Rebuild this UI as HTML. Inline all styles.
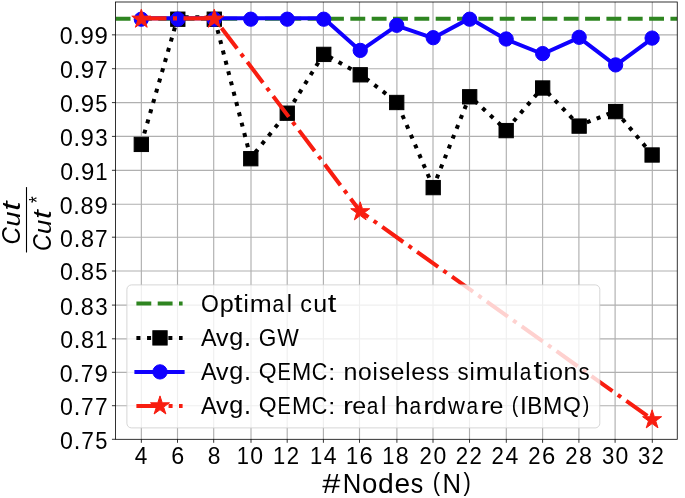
<!DOCTYPE html>
<html><head><meta charset="utf-8"><title>QEMC cut ratio</title>
<style>
html,body{margin:0;padding:0;background:#fff;width:685px;height:498px;overflow:hidden}
svg{display:block;will-change:transform;filter:blur(0.4px)}
text{font-family:"Liberation Sans",sans-serif;fill:#000}
</style></head>
<body>
<svg width="685" height="498" viewBox="0 0 685 498">
<rect width="685" height="498" fill="#fff"/>
<path d="M141.35 2V439.3M177.5 2V439.3M213.7 2V439.3M251 2V439.3M287.2 2V439.3M323.4 2V439.3M359.5 2V439.3M396.9 2V439.3M433 2V439.3M469.5 2V439.3M506.3 2V439.3M542.6 2V439.3M578.9 2V439.3M615.1 2V439.3M652.3 2V439.3M115.45 34.85H677.25M115.45 68.7H677.25M115.45 102.6H677.25M115.45 136.4H677.25M115.45 170.3H677.25M115.45 204.2H677.25M115.45 237.2H677.25M115.45 271H677.25M115.45 305.1H677.25M115.45 338.8H677.25M115.45 372.3H677.25M115.45 405.7H677.25" stroke="#b0b0b0" stroke-width="1.15" fill="none"/>
<defs><clipPath id="ax"><rect x="115.45" y="2" width="561.8" height="437.3"/></clipPath></defs>
<g clip-path="url(#ax)">
<path d="M115.45 18.8H677.25" stroke="#2e8520" stroke-width="4.02" stroke-dasharray="14.9 6.44" stroke-dashoffset="-0.15" fill="none"/>
<path d="M141.31 143.8L177.8 17.36" stroke="#000" stroke-width="4.02" stroke-dasharray="4.02 6.63" stroke-dashoffset="0.00" fill="none"/>
<path d="M177.8 17.36L214.28 17.36" stroke="#000" stroke-width="4.02" stroke-dasharray="4.02 6.63" stroke-dashoffset="131.60" fill="none"/>
<path d="M214.28 17.36L250.77 158.1" stroke="#000" stroke-width="4.02" stroke-dasharray="4.02 6.63" stroke-dashoffset="168.09" fill="none"/>
<path d="M250.77 158.1L287.25 112.6" stroke="#000" stroke-width="4.02" stroke-dasharray="4.02 6.63" stroke-dashoffset="312.38" fill="none"/>
<path d="M287.25 112.6L323.74 53.8" stroke="#000" stroke-width="4.02" stroke-dasharray="4.02 6.63" stroke-dashoffset="371.10" fill="none"/>
<path d="M323.74 53.8L360.23 74.2" stroke="#000" stroke-width="4.02" stroke-dasharray="4.02 6.63" stroke-dashoffset="441.00" fill="none"/>
<path d="M360.23 74.2L396.71 101.9" stroke="#000" stroke-width="4.02" stroke-dasharray="4.02 6.63" stroke-dashoffset="482.80" fill="none"/>
<path d="M396.71 101.9L433.2 187" stroke="#000" stroke-width="4.02" stroke-dasharray="4.02 6.63" stroke-dashoffset="528.61" fill="none"/>
<path d="M433.2 187L469.68 96.2" stroke="#000" stroke-width="4.02" stroke-dasharray="4.02 6.63" stroke-dashoffset="618.80" fill="none"/>
<path d="M469.68 96.2L506.17 130" stroke="#000" stroke-width="4.02" stroke-dasharray="4.02 6.63" stroke-dashoffset="717.46" fill="none"/>
<path d="M506.17 130L542.66 87.4" stroke="#000" stroke-width="4.02" stroke-dasharray="4.02 6.63" stroke-dashoffset="766.00" fill="none"/>
<path d="M542.66 87.4L579.14 125.5" stroke="#000" stroke-width="4.02" stroke-dasharray="4.02 6.63" stroke-dashoffset="823.48" fill="none"/>
<path d="M579.14 125.5L615.63 111" stroke="#000" stroke-width="4.02" stroke-dasharray="4.02 6.63" stroke-dashoffset="875.74" fill="none"/>
<path d="M615.63 111L652.11 154.4" stroke="#000" stroke-width="4.02" stroke-dasharray="4.02 6.63" stroke-dashoffset="915.90" fill="none"/>
<rect x="134.16" y="137.25" width="14.3" height="14.3" fill="#000" stroke="#000" stroke-width="1"/>
<rect x="170.65" y="12.05" width="14.3" height="14.3" fill="#000" stroke="#000" stroke-width="1"/>
<rect x="207.13" y="12.05" width="14.3" height="14.3" fill="#000" stroke="#000" stroke-width="1"/>
<rect x="243.62" y="151.55" width="14.3" height="14.3" fill="#000" stroke="#000" stroke-width="1"/>
<rect x="280.1" y="106.05" width="14.3" height="14.3" fill="#000" stroke="#000" stroke-width="1"/>
<rect x="316.59" y="47.25" width="14.3" height="14.3" fill="#000" stroke="#000" stroke-width="1"/>
<rect x="353.08" y="67.65" width="14.3" height="14.3" fill="#000" stroke="#000" stroke-width="1"/>
<rect x="389.56" y="95.35" width="14.3" height="14.3" fill="#000" stroke="#000" stroke-width="1"/>
<rect x="426.05" y="180.45" width="14.3" height="14.3" fill="#000" stroke="#000" stroke-width="1"/>
<rect x="462.53" y="89.65" width="14.3" height="14.3" fill="#000" stroke="#000" stroke-width="1"/>
<rect x="499.02" y="123.45" width="14.3" height="14.3" fill="#000" stroke="#000" stroke-width="1"/>
<rect x="535.51" y="80.85" width="14.3" height="14.3" fill="#000" stroke="#000" stroke-width="1"/>
<rect x="571.99" y="118.95" width="14.3" height="14.3" fill="#000" stroke="#000" stroke-width="1"/>
<rect x="608.48" y="104.45" width="14.3" height="14.3" fill="#000" stroke="#000" stroke-width="1"/>
<rect x="644.96" y="147.85" width="14.3" height="14.3" fill="#000" stroke="#000" stroke-width="1"/>
<polyline points="141.31,18.36 177.8,18.36 214.28,18.36 250.77,18.36 287.25,18.36 323.74,18.36 360.23,50.8 396.71,25.7 433.2,38.1 469.68,18.36 506.17,39.4 542.66,54 579.14,37.7 615.63,65.3 652.11,38.5" stroke="#1000ff" stroke-width="4.02" fill="none" stroke-linejoin="round" stroke-linecap="square"/>
<circle cx="141.31" cy="19.2" r="7.15" fill="#1000ff" stroke="#1000ff" stroke-width="1"/>
<circle cx="177.8" cy="19.2" r="7.15" fill="#1000ff" stroke="#1000ff" stroke-width="1"/>
<circle cx="214.28" cy="19.2" r="7.15" fill="#1000ff" stroke="#1000ff" stroke-width="1"/>
<circle cx="250.77" cy="19.2" r="7.15" fill="#1000ff" stroke="#1000ff" stroke-width="1"/>
<circle cx="287.25" cy="19.2" r="7.15" fill="#1000ff" stroke="#1000ff" stroke-width="1"/>
<circle cx="323.74" cy="19.2" r="7.15" fill="#1000ff" stroke="#1000ff" stroke-width="1"/>
<circle cx="360.23" cy="50.4" r="7.15" fill="#1000ff" stroke="#1000ff" stroke-width="1"/>
<circle cx="396.71" cy="25.3" r="7.15" fill="#1000ff" stroke="#1000ff" stroke-width="1"/>
<circle cx="433.2" cy="37.7" r="7.15" fill="#1000ff" stroke="#1000ff" stroke-width="1"/>
<circle cx="469.68" cy="19.2" r="7.15" fill="#1000ff" stroke="#1000ff" stroke-width="1"/>
<circle cx="506.17" cy="39" r="7.15" fill="#1000ff" stroke="#1000ff" stroke-width="1"/>
<circle cx="542.66" cy="53.6" r="7.15" fill="#1000ff" stroke="#1000ff" stroke-width="1"/>
<circle cx="579.14" cy="37.3" r="7.15" fill="#1000ff" stroke="#1000ff" stroke-width="1"/>
<circle cx="615.63" cy="64.9" r="7.15" fill="#1000ff" stroke="#1000ff" stroke-width="1"/>
<circle cx="652.11" cy="38.1" r="7.15" fill="#1000ff" stroke="#1000ff" stroke-width="1"/>
<polyline points="141.31,18.36 214.28,18.36 360.23,211.3 652.11,419.3" stroke="#f81d10" stroke-width="4.04" stroke-dasharray="25.86 6.46 4.04 6.46" stroke-dashoffset="0.66" fill="none" stroke-linejoin="round"/>
<polygon points="141.31,9.2 139.06,16.11 131.8,16.11 137.68,20.38 135.43,27.29 141.31,23.02 147.19,27.29 144.94,20.38 150.82,16.11 143.56,16.11" fill="#f81d10" stroke="#f81d10" stroke-width="1" stroke-linejoin="bevel"/>
<polygon points="214.28,9.2 212.04,16.11 204.77,16.11 210.65,20.38 208.4,27.29 214.28,23.02 220.16,27.29 217.91,20.38 223.79,16.11 216.53,16.11" fill="#f81d10" stroke="#f81d10" stroke-width="1" stroke-linejoin="bevel"/>
<polygon points="360.23,201.8 357.98,208.71 350.72,208.71 356.59,212.98 354.35,219.89 360.23,215.62 366.1,219.89 363.86,212.98 369.74,208.71 362.47,208.71" fill="#f81d10" stroke="#f81d10" stroke-width="1" stroke-linejoin="bevel"/>
<polygon points="652.11,409.8 649.87,416.71 642.6,416.71 648.48,420.98 646.24,427.89 652.11,423.62 657.99,427.89 655.75,420.98 661.62,416.71 654.36,416.71" fill="#f81d10" stroke="#f81d10" stroke-width="1" stroke-linejoin="bevel"/>
</g>
<rect x="115.45" y="2" width="561.8" height="437.3" fill="none" stroke="#000" stroke-width="0.8"/>
<path d="M141.35 439.3v3.5M177.5 439.3v3.5M213.7 439.3v3.5M251 439.3v3.5M287.2 439.3v3.5M323.4 439.3v3.5M359.5 439.3v3.5M396.9 439.3v3.5M433 439.3v3.5M469.5 439.3v3.5M506.3 439.3v3.5M542.6 439.3v3.5M578.9 439.3v3.5M615.1 439.3v3.5M652.3 439.3v3.5M115.45 34.85h-3.5M115.45 68.7h-3.5M115.45 102.6h-3.5M115.45 136.4h-3.5M115.45 170.3h-3.5M115.45 204.2h-3.5M115.45 237.2h-3.5M115.45 271h-3.5M115.45 305.1h-3.5M115.45 338.8h-3.5M115.45 372.3h-3.5M115.45 405.7h-3.5M115.45 439.3h-3.5" stroke="#000" stroke-width="0.8" fill="none"/>
<g><text transform="translate(59.69,44.33) scale(1.1600,1.1858)" font-size="20">0</text><text transform="translate(73.33,44.25) scale(1.1907,1.2874)" font-size="20">.</text><text transform="translate(80.41,44.33) scale(1.1981,1.1858)" font-size="20">9</text><text transform="translate(94.41,44.33) scale(1.1981,1.1858)" font-size="20">9</text></g>
<g><text transform="translate(60.02,78.18) scale(1.1599,1.1858)" font-size="20">0</text><text transform="translate(73.66,78.10) scale(1.1906,1.2874)" font-size="20">.</text><text transform="translate(80.74,78.18) scale(1.1981,1.1858)" font-size="20">9</text><text transform="translate(95.12,78.10) scale(1.1346,1.1762)" font-size="20">7</text></g>
<g><text transform="translate(60.07,112.08) scale(1.1599,1.1858)" font-size="20">0</text><text transform="translate(73.70,112.00) scale(1.1906,1.2874)" font-size="20">.</text><text transform="translate(80.78,112.08) scale(1.1981,1.1858)" font-size="20">9</text><text transform="translate(95.34,112.08) scale(1.0947,1.1822)" font-size="20">5</text></g>
<g><text transform="translate(59.91,145.88) scale(1.1600,1.1858)" font-size="20">0</text><text transform="translate(73.54,145.80) scale(1.1907,1.2874)" font-size="20">.</text><text transform="translate(80.62,145.88) scale(1.1981,1.1858)" font-size="20">9</text><text transform="translate(95.19,145.88) scale(1.1140,1.1858)" font-size="20">3</text></g>
<g><text transform="translate(60.18,179.78) scale(1.1599,1.1858)" font-size="20">0</text><text transform="translate(73.81,179.70) scale(1.1906,1.2874)" font-size="20">.</text><text transform="translate(80.89,179.78) scale(1.1980,1.1858)" font-size="20">9</text><text transform="translate(95.36,179.70) scale(1.1078,1.1762)" font-size="20">1</text></g>
<g><text transform="translate(59.69,213.68) scale(1.1600,1.1858)" font-size="20">0</text><text transform="translate(73.33,213.60) scale(1.1907,1.2874)" font-size="20">.</text><text transform="translate(80.62,213.68) scale(1.1726,1.1858)" font-size="20">8</text><text transform="translate(94.41,213.68) scale(1.1981,1.1858)" font-size="20">9</text></g>
<g><text transform="translate(60.02,246.68) scale(1.1599,1.1858)" font-size="20">0</text><text transform="translate(73.66,246.60) scale(1.1906,1.2874)" font-size="20">.</text><text transform="translate(80.95,246.68) scale(1.1725,1.1858)" font-size="20">8</text><text transform="translate(95.12,246.60) scale(1.1346,1.1762)" font-size="20">7</text></g>
<g><text transform="translate(60.07,280.48) scale(1.1599,1.1858)" font-size="20">0</text><text transform="translate(73.70,280.40) scale(1.1906,1.2874)" font-size="20">.</text><text transform="translate(80.99,280.48) scale(1.1725,1.1858)" font-size="20">8</text><text transform="translate(95.34,280.48) scale(1.0947,1.1822)" font-size="20">5</text></g>
<g><text transform="translate(59.91,314.58) scale(1.1600,1.1858)" font-size="20">0</text><text transform="translate(73.54,314.50) scale(1.1907,1.2874)" font-size="20">.</text><text transform="translate(80.83,314.58) scale(1.1725,1.1858)" font-size="20">8</text><text transform="translate(95.19,314.58) scale(1.1140,1.1858)" font-size="20">3</text></g>
<g><text transform="translate(60.18,348.28) scale(1.1599,1.1858)" font-size="20">0</text><text transform="translate(73.81,348.20) scale(1.1906,1.2874)" font-size="20">.</text><text transform="translate(81.10,348.28) scale(1.1725,1.1858)" font-size="20">8</text><text transform="translate(95.36,348.20) scale(1.1078,1.1762)" font-size="20">1</text></g>
<g><text transform="translate(59.69,381.78) scale(1.1600,1.1858)" font-size="20">0</text><text transform="translate(73.33,381.70) scale(1.1907,1.2874)" font-size="20">.</text><text transform="translate(80.78,381.70) scale(1.1347,1.1762)" font-size="20">7</text><text transform="translate(94.41,381.78) scale(1.1981,1.1858)" font-size="20">9</text></g>
<g><text transform="translate(60.02,415.18) scale(1.1599,1.1858)" font-size="20">0</text><text transform="translate(73.66,415.10) scale(1.1906,1.2874)" font-size="20">.</text><text transform="translate(81.12,415.10) scale(1.1346,1.1762)" font-size="20">7</text><text transform="translate(95.12,415.10) scale(1.1346,1.1762)" font-size="20">7</text></g>
<g><text transform="translate(60.07,448.78) scale(1.1599,1.1858)" font-size="20">0</text><text transform="translate(73.70,448.70) scale(1.1906,1.2874)" font-size="20">.</text><text transform="translate(81.16,448.70) scale(1.1346,1.1762)" font-size="20">7</text><text transform="translate(95.34,448.78) scale(1.0947,1.1822)" font-size="20">5</text></g>
<g><text transform="translate(134.68,464.20) scale(1.1305,1.1762)" font-size="20">4</text></g>
<g><text transform="translate(171.23,464.28) scale(1.1677,1.1858)" font-size="20">6</text></g>
<g><text transform="translate(207.81,464.28) scale(1.1401,1.1858)" font-size="20">8</text></g>
<g><text transform="translate(236.66,464.20) scale(1.0992,1.1762)" font-size="20">1</text><text transform="translate(250.37,464.28) scale(1.1509,1.1858)" font-size="20">0</text></g>
<g><text transform="translate(272.98,464.20) scale(1.0986,1.1762)" font-size="20">1</text><text transform="translate(286.63,464.20) scale(1.1087,1.1799)" font-size="20">2</text></g>
<g><text transform="translate(309.94,464.20) scale(1.0993,1.1762)" font-size="20">1</text><text transform="translate(323.65,464.20) scale(1.1512,1.1762)" font-size="20">4</text></g>
<g><text transform="translate(345.92,464.20) scale(1.0992,1.1762)" font-size="20">1</text><text transform="translate(359.40,464.28) scale(1.1912,1.1858)" font-size="20">6</text></g>
<g><text transform="translate(382.13,464.20) scale(1.0991,1.1762)" font-size="20">1</text><text transform="translate(395.77,464.28) scale(1.1633,1.1858)" font-size="20">8</text></g>
<g><text transform="translate(419.56,464.20) scale(1.1099,1.1799)" font-size="20">2</text><text transform="translate(433.52,464.28) scale(1.1515,1.1858)" font-size="20">0</text></g>
<g><text transform="translate(455.68,464.20) scale(1.1094,1.1799)" font-size="20">2</text><text transform="translate(469.58,464.20) scale(1.1094,1.1799)" font-size="20">2</text></g>
<g><text transform="translate(491.60,464.20) scale(1.1101,1.1799)" font-size="20">2</text><text transform="translate(505.55,464.20) scale(1.1518,1.1762)" font-size="20">4</text></g>
<g><text transform="translate(528.32,464.20) scale(1.1100,1.1799)" font-size="20">2</text><text transform="translate(542.05,464.28) scale(1.1918,1.1858)" font-size="20">6</text></g>
<g><text transform="translate(565.13,464.20) scale(1.1099,1.1799)" font-size="20">2</text><text transform="translate(579.02,464.28) scale(1.1639,1.1858)" font-size="20">8</text></g>
<g><text transform="translate(601.92,464.28) scale(1.1058,1.1858)" font-size="20">3</text><text transform="translate(615.53,464.28) scale(1.1514,1.1858)" font-size="20">0</text></g>
<g><text transform="translate(637.99,464.28) scale(1.1052,1.1858)" font-size="20">3</text><text transform="translate(651.54,464.20) scale(1.1093,1.1799)" font-size="20">2</text></g>
<g><text transform="translate(322.36,493.00) scale(1.6262,1.3640)" font-size="20">#</text><text transform="translate(342.72,493.00) scale(1.2841,1.3775)" font-size="20">N</text><text transform="translate(362.00,493.10) scale(1.3820,1.3626)" font-size="20">o</text><text transform="translate(377.88,493.10) scale(1.4129,1.3700)" font-size="20">d</text><text transform="translate(394.38,493.10) scale(1.4042,1.3626)" font-size="20">e</text><text transform="translate(410.85,493.10) scale(1.2461,1.3662)" font-size="20">s</text><text transform="translate(432.82,491.28) scale(1.0989,1.2428)" font-size="20">(</text><text transform="translate(442.53,493.00) scale(1.2841,1.3775)" font-size="20">N</text><text transform="translate(463.49,491.28) scale(1.0989,1.2428)" font-size="20">)</text></g>
<g transform="rotate(-90)"><text transform="translate(-244.44,20.46) scale(1.2102,1.2429)" font-size="20" font-style="italic">C</text><text transform="translate(-226.44,20.47) scale(1.3413,1.2142)" font-size="20" font-style="italic">u</text><text transform="translate(-210.87,20.13) scale(1.6748,1.2449)" font-size="20" font-style="italic">t</text></g>
<g transform="rotate(-90)"><text transform="translate(-251.08,51.15) scale(1.1564,1.2570)" font-size="20" font-style="italic">C</text><text transform="translate(-233.88,51.17) scale(1.2816,1.2280)" font-size="20" font-style="italic">u</text><text transform="translate(-219.00,50.82) scale(1.6003,1.2590)" font-size="20" font-style="italic">t</text></g>
<g transform="rotate(-90)"><text transform="translate(-202.98,43.89) scale(0.8673,1.0824)" font-size="20">*</text></g>
<path d="M26.5 187.1V252.5" stroke="#000" stroke-width="1.1"/>
<rect x="126.9" y="284.9" width="472.9" height="143" rx="4.6" fill="#fff" fill-opacity="0.8" stroke="#ccc" stroke-opacity="0.8" stroke-width="1"/>
<path d="M136.4 303.6H182.6" stroke="#2e8520" stroke-width="4.02" stroke-dasharray="14.87 6.43" fill="none"/>
<path d="M136.4 337.9H182.6" stroke="#000" stroke-width="4.02" stroke-dasharray="4.02 6.63" fill="none"/>
<rect x="152.85" y="330.75" width="14.3" height="14.3" fill="#000" stroke="#000" stroke-width="1"/>
<path d="M136.4 371.9H182.6" stroke="#1000ff" stroke-width="4.02" stroke-linecap="square" fill="none"/>
<circle cx="160" cy="371.9" r="7.15" fill="#1000ff" stroke="#1000ff" stroke-width="1"/>
<path d="M136.4 405.9H182.6" stroke="#f81d10" stroke-width="4.02" stroke-dasharray="25.73 6.43 4.02 6.43" fill="none"/>
<polygon points="160,395.9 157.75,402.81 150.49,402.81 156.37,407.08 154.12,413.99 160,409.72 165.88,413.99 163.63,407.08 169.51,402.81 162.25,402.81" fill="#f81d10" stroke="#f81d10" stroke-width="1" stroke-linejoin="bevel"/>
<g><text transform="translate(201.12,311.79) scale(1.1467,1.2392)" font-size="20">O</text><text transform="translate(219.64,311.56) scale(1.2620,1.1957)" font-size="20">p</text><text transform="translate(234.04,311.51) scale(1.5504,1.2448)" font-size="20">t</text><text transform="translate(243.58,311.70) scale(1.1858,1.2163)" font-size="20">i</text><text transform="translate(249.78,311.70) scale(1.3217,1.2074)" font-size="20">m</text><text transform="translate(272.54,311.79) scale(1.0431,1.2158)" font-size="20">a</text><text transform="translate(286.83,311.70) scale(1.1858,1.2163)" font-size="20">l</text><text transform="translate(300.36,311.79) scale(1.1639,1.2158)" font-size="20">c</text><text transform="translate(313.17,311.79) scale(1.2507,1.2379)" font-size="20">u</text><text transform="translate(327.68,311.51) scale(1.5504,1.2448)" font-size="20">t</text></g>
<g><text transform="translate(201.04,345.60) scale(1.1685,1.2292)" font-size="20">A</text><text transform="translate(216.02,345.60) scale(1.2519,1.2007)" font-size="20">v</text><text transform="translate(229.36,345.46) scale(1.2608,1.1973)" font-size="20">g</text><text transform="translate(244.06,345.60) scale(1.2552,1.3454)" font-size="20">.</text><text transform="translate(258.78,345.69) scale(1.1314,1.2392)" font-size="20">G</text><text transform="translate(277.26,345.60) scale(1.1437,1.2292)" font-size="20">W</text></g>
<g><text transform="translate(201.04,379.60) scale(1.1685,1.2292)" font-size="20">A</text><text transform="translate(216.02,379.60) scale(1.2519,1.2007)" font-size="20">v</text><text transform="translate(229.36,379.46) scale(1.2608,1.1973)" font-size="20">g</text><text transform="translate(244.06,379.60) scale(1.2552,1.3454)" font-size="20">.</text><text transform="translate(258.83,378.29) scale(1.1467,1.1389)" font-size="20">Q</text><text transform="translate(277.51,379.60) scale(1.0053,1.2292)" font-size="20">E</text><text transform="translate(291.92,379.60) scale(1.1566,1.2292)" font-size="20">M</text><text transform="translate(311.76,379.69) scale(1.0768,1.2392)" font-size="20">C</text><text transform="translate(328.18,379.60) scale(1.2552,1.1353)" font-size="20">:</text><text transform="translate(343.39,379.60) scale(1.2507,1.2074)" font-size="20">n</text><text transform="translate(357.89,379.69) scale(1.2332,1.2158)" font-size="20">o</text><text transform="translate(372.44,379.60) scale(1.1858,1.2163)" font-size="20">i</text><text transform="translate(378.93,379.69) scale(1.1119,1.2191)" font-size="20">s</text><text transform="translate(390.59,379.69) scale(1.2529,1.2158)" font-size="20">e</text><text transform="translate(405.24,379.60) scale(1.1858,1.2163)" font-size="20">l</text><text transform="translate(411.31,379.69) scale(1.2529,1.2158)" font-size="20">e</text><text transform="translate(426.01,379.69) scale(1.1119,1.2191)" font-size="20">s</text><text transform="translate(438.09,379.69) scale(1.1119,1.2191)" font-size="20">s</text><text transform="translate(457.55,379.69) scale(1.1119,1.2191)" font-size="20">s</text><text transform="translate(469.60,379.60) scale(1.1858,1.2163)" font-size="20">i</text><text transform="translate(475.80,379.60) scale(1.3217,1.2074)" font-size="20">m</text><text transform="translate(498.39,379.69) scale(1.2507,1.2379)" font-size="20">u</text><text transform="translate(513.34,379.60) scale(1.1858,1.2163)" font-size="20">l</text><text transform="translate(519.70,379.69) scale(1.0431,1.2158)" font-size="20">a</text><text transform="translate(533.57,379.41) scale(1.5504,1.2448)" font-size="20">t</text><text transform="translate(543.11,379.60) scale(1.1858,1.2163)" font-size="20">i</text><text transform="translate(549.20,379.69) scale(1.2332,1.2158)" font-size="20">o</text><text transform="translate(563.60,379.60) scale(1.2507,1.2074)" font-size="20">n</text><text transform="translate(578.49,379.69) scale(1.1119,1.2191)" font-size="20">s</text></g>
<g><text transform="translate(201.04,413.60) scale(1.1685,1.2292)" font-size="20">A</text><text transform="translate(216.02,413.60) scale(1.2519,1.2007)" font-size="20">v</text><text transform="translate(229.36,413.46) scale(1.2608,1.1973)" font-size="20">g</text><text transform="translate(244.06,413.60) scale(1.2552,1.3454)" font-size="20">.</text><text transform="translate(258.83,412.29) scale(1.1467,1.1389)" font-size="20">Q</text><text transform="translate(277.51,413.60) scale(1.0053,1.2292)" font-size="20">E</text><text transform="translate(291.92,413.60) scale(1.1566,1.2292)" font-size="20">M</text><text transform="translate(311.76,413.69) scale(1.0768,1.2392)" font-size="20">C</text><text transform="translate(328.18,413.60) scale(1.2552,1.1353)" font-size="20">:</text><text transform="translate(343.08,413.60) scale(1.4863,1.2074)" font-size="20">r</text><text transform="translate(352.19,413.69) scale(1.2529,1.2158)" font-size="20">e</text><text transform="translate(366.75,413.69) scale(1.0431,1.2158)" font-size="20">a</text><text transform="translate(381.05,413.60) scale(1.1858,1.2163)" font-size="20">l</text><text transform="translate(394.64,413.60) scale(1.2594,1.2163)" font-size="20">h</text><text transform="translate(409.49,413.69) scale(1.0431,1.2158)" font-size="20">a</text><text transform="translate(423.34,413.60) scale(1.4863,1.2074)" font-size="20">r</text><text transform="translate(432.55,413.69) scale(1.2608,1.2225)" font-size="20">d</text><text transform="translate(448.07,413.60) scale(1.1725,1.2007)" font-size="20">w</text><text transform="translate(466.54,413.69) scale(1.0431,1.2158)" font-size="20">a</text><text transform="translate(480.38,413.60) scale(1.4863,1.2074)" font-size="20">r</text><text transform="translate(489.50,413.69) scale(1.2529,1.2158)" font-size="20">e</text><text transform="translate(511.71,412.07) scale(0.9806,1.1089)" font-size="20">(</text><text transform="translate(519.99,413.60) scale(1.2268,1.2292)" font-size="20">I</text><text transform="translate(527.25,413.60) scale(1.1270,1.2292)" font-size="20">B</text><text transform="translate(543.12,413.60) scale(1.1566,1.2292)" font-size="20">M</text><text transform="translate(562.97,412.29) scale(1.1467,1.1389)" font-size="20">Q</text><text transform="translate(582.76,412.07) scale(0.9806,1.1089)" font-size="20">)</text></g>
</svg>
</body></html>
